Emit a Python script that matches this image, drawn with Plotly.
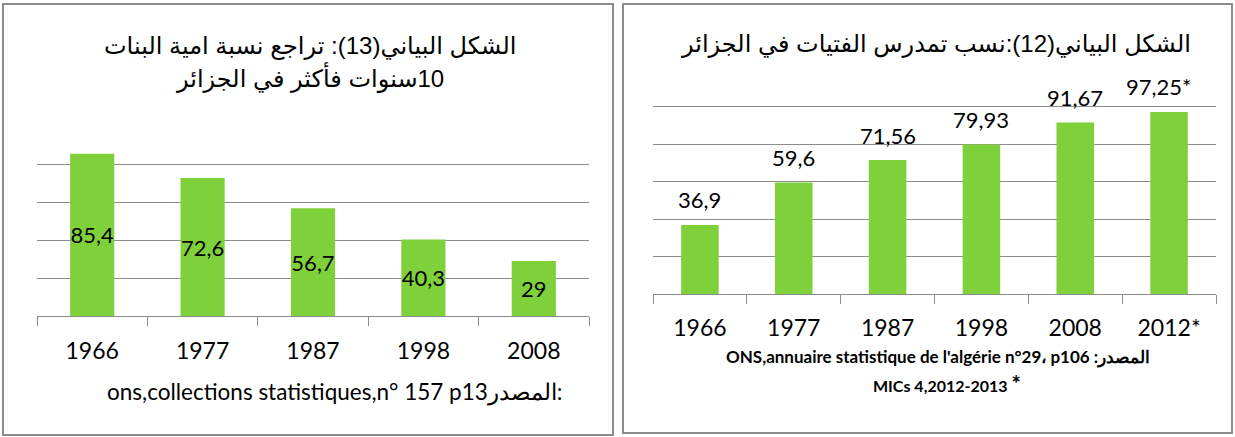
import plotly.graph_objects as go

# ---------------- data ----------------
left_years = ["1966", "1977", "1987", "1998", "2008"]
left_values = [85.4, 72.6, 56.7, 40.3, 29]
left_labels = ["85,4", "72,6", "56,7", "40,3", "29"]

right_years = ["1966", "1977", "1987", "1998", "2008", "2012*"]
right_values = [36.9, 59.6, 71.56, 79.93, 91.67, 97.25]
right_labels = ["36,9", "59,6", "71,56", "79,93", "91,67", "97,25*"]

left_title_1 = "الشكل البياني(13): تراجع نسبة امية البنات"
left_title_2 = "10سنوات فأكثر في الجزائر"
right_title = "الشكل البياني(12):نسب تمدرس الفتيات في الجزائر"
left_source = "ons,collections statistiques,n° 157 p13المصدر:"
right_source1 = "ONS,annuaire statistique de l'algérie n°29، p106 :المصدر"
right_source2 = "MICs 4,2012-2013 <span style='font-size:22px'>*</span>"

# ---------------- style ----------------
W, H = 1235, 437
GREEN = "#7fd13b"
GRID = "#8c8c8c"
BORDER = "#8c8c8c"
NUMFONT = "Lato, Open Sans, sans-serif"
ARFONT = "Liberation Sans, DejaVu Sans, sans-serif"
RLE, PDF = "\u202b", "\u202c"


def px(x):
    return x / W


def py(y):
    return 1 - y / H


fig = go.Figure()

fig.add_trace(go.Bar(
    x=left_years, y=left_values, text=left_labels,
    textposition="inside", insidetextanchor="middle", constraintext="none",
    textangle=0,
    textfont=dict(family=NUMFONT, size=22, color="black"),
    marker=dict(color=GREEN, line=dict(width=0)),
    xaxis="x", yaxis="y", hoverinfo="skip", cliponaxis=False,
))

fig.add_trace(go.Bar(
    x=right_years, y=right_values,
    marker=dict(color=GREEN, line=dict(width=0)),
    xaxis="x2", yaxis="y2", hoverinfo="skip",
))

annotations = []
for i, (val, lab) in enumerate(zip(right_values, right_labels)):
    annotations.append(dict(
        x=i, y=val, xref="x2", yref="y2", text=lab, showarrow=False,
        yanchor="middle", yshift=25, xshift=-11 if lab.endswith("*") else 0,
        font=dict(family=NUMFONT, size=22, color="black"),
    ))

title_font = dict(family=ARFONT, size=24, color="black")
annotations += [
    dict(x=px(310), y=py(45.5), xref="paper", yref="paper", text=RLE + left_title_1 + PDF,
         showarrow=False, xanchor="center", yanchor="middle", font=title_font),
    dict(x=px(310), y=py(78), xref="paper", yref="paper", text=RLE + left_title_2 + PDF,
         showarrow=False, xanchor="center", yanchor="middle", font=title_font),
    dict(x=px(936), y=py(44), xref="paper", yref="paper", text=RLE + right_title + PDF,
         showarrow=False, xanchor="center", yanchor="middle", font=title_font),
    dict(x=px(334), y=py(392), xref="paper", yref="paper", text=left_source,
         showarrow=False, xanchor="center", yanchor="middle",
         font=dict(family=NUMFONT, size=22.5, color="black")),
    dict(x=px(938), y=py(357), xref="paper", yref="paper", text="<b>" + right_source1 + "</b>",
         showarrow=False, xanchor="center", yanchor="middle",
         font=dict(family=NUMFONT, size=17, color="black")),
    dict(x=px(947), y=py(383), xref="paper", yref="paper", text="<b>" + right_source2 + "</b>",
         showarrow=False, xanchor="center", yanchor="middle",
         font=dict(family=NUMFONT, size=16, color="black")),
]

shapes = [
    dict(type="rect", xref="paper", yref="paper", x0=px(3), x1=px(613), y0=py(435), y1=py(4),
         line=dict(color=BORDER, width=2), fillcolor="rgba(0,0,0,0)"),
    dict(type="rect", xref="paper", yref="paper", x0=px(623), x1=px(1232), y0=py(433), y1=py(4),
         line=dict(color=BORDER, width=2), fillcolor="rgba(0,0,0,0)"),
]

xaxis_common = dict(
    type="category", showgrid=False, zeroline=False, showline=True,
    linecolor=GRID, linewidth=1, ticks="outside", tickson="boundaries",
    ticklen=9, tickcolor=GRID, tickwidth=1,
    tickfont=dict(family=NUMFONT, size=23, color="black"),
    fixedrange=True,
)
yaxis_common = dict(
    showgrid=True, gridcolor=GRID, gridwidth=1, zeroline=False,
    showticklabels=False, showline=False, ticks="", dtick=20, tick0=0,
    fixedrange=True,
)

fig.update_layout(
    width=W, height=H,
    margin=dict(l=0, r=0, t=0, b=0),
    paper_bgcolor="white", plot_bgcolor="rgba(0,0,0,0)",
    showlegend=False, bargap=0.6,
    xaxis=dict(domain=[px(37), px(589)], anchor="y", ticklabelstandoff=14,
               range=[-0.5, len(left_years) - 0.5], **xaxis_common),
    yaxis=dict(domain=[py(316), py(126)], anchor="x", range=[0, 100], **yaxis_common),
    xaxis2=dict(domain=[px(653), px(1216)], anchor="y2", ticklabelstandoff=13,
                range=[-0.5, len(right_years) - 0.5], **xaxis_common),
    yaxis2=dict(domain=[py(294), py(69.4)], anchor="x2", range=[0, 120], **yaxis_common),
    annotations=annotations,
    shapes=shapes,
)

fig.write_html(
    "out.html",
    config={"displayModeBar": False, "staticPlot": True},
    post_script="document.body.style.margin='0';document.body.style.overflow='hidden';",
)
